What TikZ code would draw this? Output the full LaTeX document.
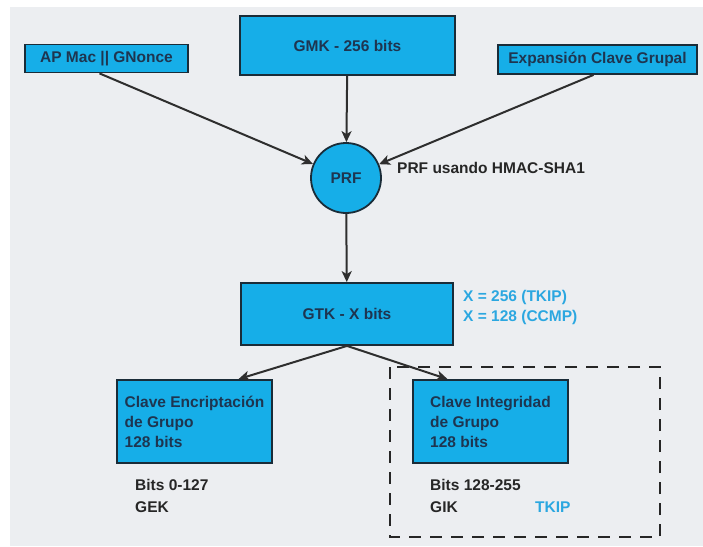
\documentclass[tikz,border=0pt]{standalone}
\usepackage{fontspec}
\setmainfont{Liberation Sans}
\usepackage{xcolor}
\usepackage{tikz}
\usetikzlibrary{arrows.meta}
\definecolor{keyblue}{HTML}{16AEE8}
\definecolor{keyline}{HTML}{1A2C38}
\definecolor{keytext}{HTML}{1E3550}
\definecolor{notecyan}{HTML}{2BA7E0}
\definecolor{bggray}{HTML}{ECEEF1}
\newcommand{\keyfont}{\bfseries\fontsize{15.5}{20}\selectfont}
\tikzset{
	key node/.style={rectangle,draw=keyline,fill=keyblue,line width=1.8pt,
		text=keytext,font=\keyfont,inner sep=0pt},
	prf node/.style={circle,draw=keyline,fill=keyblue,line width=1.8pt,
		text=keytext,font=\keyfont,minimum size=70pt,inner sep=0pt},
	note/.style={font=\keyfont,text=black!85,align=left,inner sep=0pt},
	link/.style={-{Stealth[length=11pt,width=10pt,inset=3pt]},draw=black!82,line width=2pt}
}

\begin{document}
\begin{tikzpicture}[x=1pt,y=-1pt]
	\useasboundingbox (0,0) rectangle (703,546);
	\fill [white] (0,0) rectangle (703,546);
	\fill [bggray] (10,7) rectangle (703,546);
	\node [key node,minimum width=163pt,minimum height=28pt] (1) at (106.5,58.5) {AP Mac || GNonce};
	\node [key node,minimum width=215pt,minimum height=59pt] (2) at (347.5,45.5) {GMK - 256 bits};
	\node [key node,minimum width=199pt,minimum height=29pt] (3) at (597.5,59.5) {Expansión Clave Grupal};
	\node [prf node] (4) at (346,178) {PRF};
	\node [note,anchor=west] (5) at (397,168) {PRF usando HMAC-SHA1};
	\node [key node,minimum width=212pt,minimum height=62pt] (6) at (347,314) {GTK - X bits};
	\node [note,anchor=west,text=notecyan] (7) at (463,307) {X = 256 (TKIP)\\X = 128 (CCMP)};
	\node [key node,align=left,minimum width=155pt,minimum height=83pt] (8) at (194.5,421.5)
		{Clave Encriptación\\de Grupo\\128 bits};
	\node [key node,align=left,minimum width=155pt,minimum height=83pt] (9) at (490.5,421.5)
		{Clave Integridad\\de Grupo\\128 bits};
	\node [note,anchor=west,font=\bfseries\fontsize{15.5}{22}\selectfont] (10) at (135,496) {Bits 0-127\\GEK};
	\node [note,anchor=west,font=\bfseries\fontsize{15.5}{22}\selectfont] (11) at (430,496) {Bits 128-255\\GIK};
	\node [note,anchor=west,text=notecyan] (12) at (535,507) {TKIP};
	\draw [black!85,line width=1.8pt,dash pattern=on 12pt off 9pt] (390,367) rectangle (660,537);
	\draw [link] ([xshift=-7pt]1.south) -- (4);
	\draw [link] (2) -- (4);
	\draw [link] ([xshift=-4pt]3.south) -- (4);
	\draw [link] (4) -- (6);
	\draw [link] (6.south) -- ([xshift=44pt]8.north);
	\draw [link] (6.south) -- ([xshift=-43pt]9.north);
\end{tikzpicture}
\end{document}
